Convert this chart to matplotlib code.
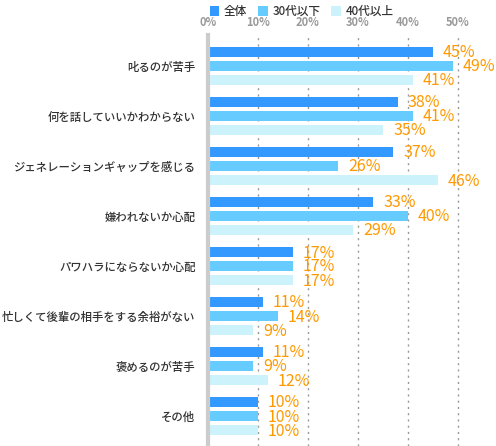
import numpy as np
import matplotlib
matplotlib.use('Agg')
import matplotlib.pyplot as plt
from matplotlib.patches import Patch

plt.rcParams['font.family'] = ['Noto Sans CJK JP', 'DejaVu Sans']

categories = ['叱るのが苦手', '何を話していいかわからない', 'ジェネレーションギャップを感じる',
              '嫌われないか心配', 'パワハラにならないか心配', '忙しくて後輩の相手をする余裕がない',
              '褒めるのが苦手', 'その他']
series_names = ['全体', '30代以下', '40代以上']
total = [45, 38, 37, 33, 17, 11, 11, 10]
under30 = [49, 41, 26, 40, 17, 14, 9, 10]
over40 = [41, 35, 46, 29, 17, 9, 12, 10]
ticks = [0, 10, 20, 30, 40, 50]

colors = ['#3399ff', '#66ccff', '#ccf2fc']
label_color = '#ff9900'

W, H = 496, 446
fig = plt.figure(figsize=(W / 100, H / 100), dpi=100)
ax = fig.add_axes([208 / W, 0, (W - 208) / W, (H - 35) / H])

y = np.arange(len(categories))
offs = [-0.28, 0, 0.28]
bh = 0.21
for vals, off, c in zip([total, under30, over40], offs, colors):
    ax.barh(y + off, vals, height=bh, color=c, zorder=2)
    for yi, v in zip(y, vals):
        ax.text(v + 2, yi + off + 0.02, f'{v}%', color=label_color, fontsize=11.5,
                va='center', ha='left', zorder=3)

ax.set_xlim(0, 57.6)
ax.set_ylim(7.6, -0.62)
ax.set_yticks(y)
ax.set_yticklabels(categories, fontsize=8.2, color='#333333', fontweight='medium')
ax.tick_params(axis='y', length=0, pad=9)
ax.xaxis.tick_top()
ax.set_xticks(ticks)
ax.set_xticklabels([f'{t}%' for t in ticks], fontsize=8, color='#999999', fontweight='bold')
ax.tick_params(axis='x', length=0, pad=4)

for t in ticks[1:]:
    ax.axvline(t, color='#999999', lw=1, linestyle=(0, (1.5, 3)), zorder=1)

for s in ['top', 'right', 'bottom']:
    ax.spines[s].set_visible(False)
ax.spines['left'].set_color('#cccccc')
ax.spines['left'].set_linewidth(3)

handles = [Patch(facecolor=c, edgecolor='none') for c in colors]
fig.legend(handles, series_names, loc='upper left', bbox_to_anchor=(199 / W, 1.012),
           ncol=3, frameon=False, handlelength=0.85, handleheight=0.85,
           handletextpad=0.4, columnspacing=0.9, labelcolor='#333333',
           prop={'weight': 'medium', 'size': 8.4})

fig.savefig('out.png', dpi=100)
